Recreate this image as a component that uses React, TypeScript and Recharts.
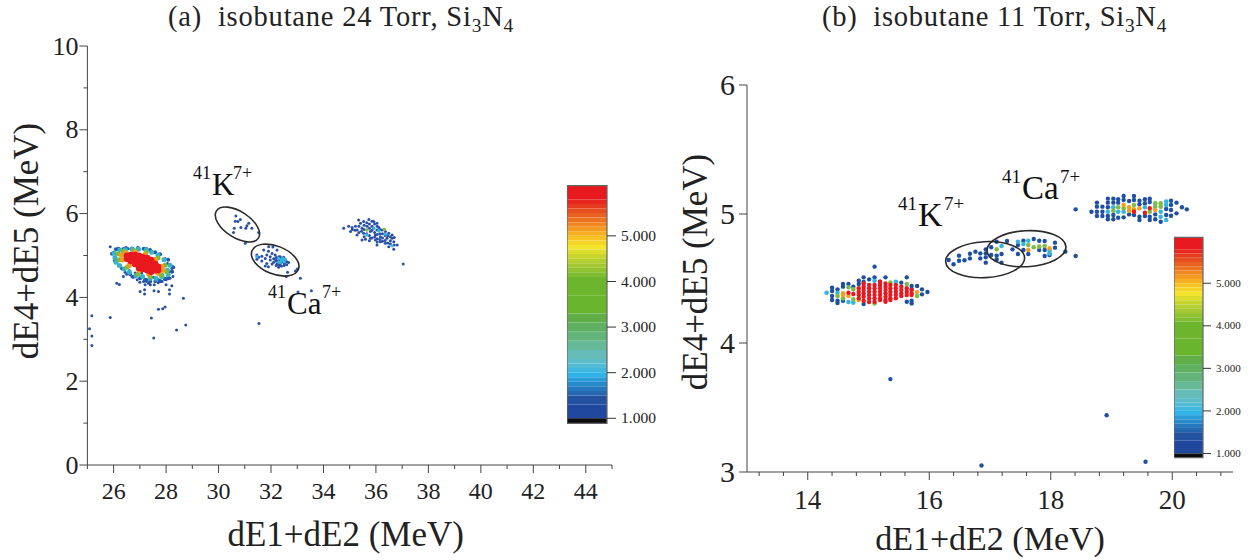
import React from 'react';
import { ScatterChart, Scatter, XAxis, YAxis, ReferenceArea } from 'recharts';

type Col = [number, ...number[]];
const cols = (list: Col[]) => list.flatMap(([x, ...ys]) => ys.map((y) => ({ x, y })));

// ---- panel (a) axes
const aXTicks = [25,26,27,28,29,30,31,32,33,34,35,36,37,38,39,40,41,42,43,44,45];
const aXMajor = [26,28,30,32,34,36,38,40,42,44];
const aYTicks = [0,1,2,3,4,5,6,7,8,9,10];
const aYMajor = [0,2,4,6,8,10];

// ---- panel (a) points: x followed by its y values
const aEdge: Col[] = [
  [28.23,4.61],[28.08,4.46],[27.77,4.39],[27.39,4.38],[27.01,4.46],[26.63,4.55],[26.32,4.69],[26.05,4.88],[25.94,5.04],
  [26.09,5.15],[26.47,5.18],[26.93,5.18],[27.39,5.13],[27.77,5.03],[28.08,4.90],[28.27,4.72],
  [27.20,4.42],[27.60,4.40],[26.80,4.50],[27.95,4.44],[26.18,5.16],[26.70,5.17],[27.15,5.16],[27.58,5.08],
];
const aBlue: Col[] = [
  [25.08,3.25],[25.17,3.56,3.08,2.85],[25.87,5.21,3.52],[26.09,5.04],[26.12,4.34,4.89],[26.22,4.31],[26.25,5.13,4.77],
  [26.37,5.17,4.50],[26.44,4.60],[26.50,4.55],[26.56,5.16],[26.60,4.64],[26.63,4.60],[26.70,4.50],[26.73,4.48],[26.76,5.16],[26.82,4.58],[26.88,4.54],
  [26.90,4.42],[26.95,5.17],[27.00,4.36],[27.01,4.14,4.46],[27.07,4.58],[27.14,5.16,4.38],[27.18,4.18,4.08],[27.20,4.30],[27.25,4.38],[27.26,5.17,4.43],[27.33,4.34],
  [27.39,4.54],[27.40,4.40,4.30],[27.44,3.51],[27.46,5.07],[27.52,4.48],[27.53,3.03],[27.54,4.16],[27.55,4.30],[27.58,4.38],[27.70,4.35],[27.71,5.01,4.43,4.14,3.72],
  [27.77,4.38],[27.85,4.38],[27.87,4.54,3.73],[27.96,4.93,4.46,3.77],[28.00,4.42,4.30],[28.05,4.81],[28.09,4.58],[28.13,4.18,4.08],[28.15,4.46,4.62],[28.22,4.69,4.28],
  [28.26,4.50],[28.40,3.22],[28.66,3.98],[28.75,3.34],
  [30.57,5.55],[30.60,5.65],[30.64,5.82],[30.66,5.94],[30.74,5.81],[30.83,5.86],[30.85,5.67],[31.02,5.29],[31.04,5.65],
  [31.08,5.71],[31.15,5.77],[31.27,5.65],[31.53,5.55],
  [31.46,5.01,4.91],[31.53,4.96],[31.54,3.38],[31.65,4.98,4.87],[31.72,5.13],[31.78,4.93,4.75],[31.84,5.01,4.81],[31.90,5.10,4.73],[31.91,5.21],[31.97,4.97,4.89],
  [32.04,5.05,4.80],[32.07,5.20],[32.10,4.92,4.84],[32.16,5.01,4.91],[32.20,4.95,4.87,4.76],[32.23,5.13,4.80],[32.29,4.88,4.72],[32.30,4.97,4.84,4.78],[32.35,4.97,4.77],
  [32.40,4.93,4.84,4.75],[32.42,4.88],[32.48,4.96],[32.50,4.90,4.76],[32.51,4.81],[32.54,4.89],[32.58,4.50],[32.60,4.85,4.78],[32.63,4.60],[32.67,4.83],[32.93,4.63],[33.00,4.68],[33.03,4.13],
  [33.12,4.46],[33.54,4.16],
  [34.77,5.65],[34.96,5.70],[35.03,5.57],[35.09,5.67],[35.10,5.62],[35.20,5.60],[35.22,5.70],[35.28,5.61,5.49],[35.34,5.85],[35.35,5.70,5.55],[35.41,5.77],[35.45,5.58],
  [35.47,5.65,5.37],[35.53,5.81,5.53],[35.55,5.72,5.62,5.45],[35.60,5.39],[35.65,5.78,5.52],[35.66,5.70],[35.73,5.86],[35.75,5.75,5.65,5.48,5.35],[35.79,5.57,5.41],[35.85,5.82,5.70,5.60,5.42],
  [35.92,5.81],[35.95,5.75,5.55,5.44],[35.98,5.49,5.37],[36.04,5.77,5.61,5.25],[36.05,5.70,5.50,5.40,5.32],[36.11,5.67],[36.15,5.62,5.52,5.38],[36.17,5.45,5.33],[36.23,5.61],[36.25,5.52,5.42,5.34],[36.35,5.48,5.36],[36.36,5.57,5.29],
  [36.42,5.41],[36.45,5.47,5.30],[36.49,5.53,5.21],[36.55,5.45,5.35,5.28],[36.62,5.49,5.41],[36.68,5.33,5.15],[36.70,5.43,5.25],[36.81,5.25],[37.04,4.80],
];
const aCyan: Col[] = [
  [26.02,5.06],[26.09,4.84],[26.24,5.13],[26.40,4.68],[26.70,5.15],[26.85,4.52],[27.24,5.13],[27.39,4.45],[27.69,5.01],
  [27.85,4.49],[28.08,4.54],[28.15,4.77],
  [26.05,4.95],[26.22,4.76],[26.60,4.60],[27.10,4.50],[27.62,4.45],[28.05,4.65],[27.92,4.90],[27.45,5.08],[26.95,5.15],[26.45,5.14],
];
const aCyanSmall: Col[] = [
  [31.46,4.97],[32.29,4.93],[32.42,4.91],[32.54,4.91],[32.35,4.83],[32.40,4.87],[32.50,4.85],[32.30,4.84],[32.45,4.93],
  [35.66,5.49],[35.92,5.65],[36.11,5.59],[36.36,5.51],[36.62,5.23],
];
const aGreen: Col[] = [
  [26.17,5.04],[26.21,4.90],[26.36,5.10],[26.51,4.72],[26.78,5.12],[26.93,4.56],[27.24,5.08],[27.39,4.50],[27.69,4.94],
  [27.81,4.53],[27.96,4.77],[28.02,4.61],
];
const aGreenSmall: Col[] = [[35.66,5.61],[36.32,5.62]];
const aOrange: Col[] = [
  [26.30,5.01],[26.34,4.90],[26.47,5.06],[26.59,4.76],[26.82,5.08],[26.97,4.64],[27.20,5.02],[27.35,4.56],[27.58,4.90],
  [27.69,4.58],[27.83,4.74],[27.87,4.65],
];
const aRed: Col[] = [
  [26.51,4.99,4.92],[26.66,5.01,4.94,4.87],[26.82,5.01,4.94,4.87,4.80],[26.97,4.99,4.92,4.84,4.77,4.70],
  [27.12,4.96,4.89,4.82,4.75,4.68],[27.28,4.94,4.87,4.80,4.73,4.65],[27.43,4.89,4.82,4.75,4.68,4.61],
  [27.58,4.80,4.73,4.65],[27.69,4.73,4.65],
];
const aEllipseK = [{ x: 30.72, y: 5.74 }];
const aEllipseCa = [{ x: 32.16, y: 4.89 }];

// ---- panel (b) axes
const bXTicks = [13.2,13.6,14,14.4,14.8,15.2,15.6,16,16.4,16.8,17.2,17.6,18,18.4,18.8,19.2,19.6,20,20.4,20.8];
const bXMajor = [14,16,18,20];
const bYTicks = [3,4,5,6];

// ---- panel (b) points
const bBlue: Col[] = [
  [14.40,4.429,4.403,4.364,4.333],[14.49,4.416,4.328,4.310],[14.58,4.457,4.437,4.328],[14.67,4.457],[14.75,4.437],
  [14.84,4.483,4.457],[14.92,4.509,4.473,4.302],[15.01,4.493],[15.10,4.509,4.592],[15.19,4.475],[15.28,4.509],
  [15.54,4.468],[15.63,4.509,4.320],[15.71,4.442,4.416,4.328,4.307],[15.80,4.442],[15.88,4.416,4.377],[15.97,4.395],
  [15.36,3.72],[16.86,3.05],[18.92,3.44],[19.56,3.08],
  [16.32,4.643],[16.40,4.610],[16.49,4.677,4.638],[16.58,4.641],[16.67,4.692,4.656],[16.76,4.708],[16.84,4.695,4.656],
  [16.93,4.726,4.695,4.664,4.623],[17.02,4.742,4.682],[17.11,4.785,4.677,4.648],[17.19,4.690,4.623],[17.28,4.791],
  [17.37,4.726],[17.46,4.760,4.690],[17.55,4.793,4.721],[17.63,4.690],[17.72,4.806],[17.81,4.793,4.721],
  [17.90,4.791,4.721,4.674],[17.98,4.682],[18.07,4.778,4.739],[18.24,4.708],[18.41,4.674,5.036],
  [18.67,5.018],[18.76,5.088,5.057,5.018,4.984],[18.85,5.057,5.018,4.984],[18.94,5.119,5.088,5.052,4.984,4.959],
  [19.03,5.119,5.088,4.992,4.959],[19.11,5.114,5.088,4.971],[19.20,5.139,5.108,4.974],[19.29,5.101,4.997],
  [19.37,5.139,5.108,4.992],[19.46,5.103,5.075,4.979,4.953],[19.55,5.114,5.083,4.984],[19.63,5.119,5.093,4.979,4.953],
  [19.72,4.997,4.959],[19.81,4.940],[19.90,5.039,4.992],[19.98,5.103,5.070,5.031,4.987],[20.07,5.088,5.005],[20.16,5.052],[20.24,5.036],
];
const bCyan: Col[] = [
  [14.31,4.390],[14.49,4.390],[14.67,4.318],[14.75,4.313],[15.10,4.483],[15.45,4.475],
  [17.19,4.752],[17.46,4.785],[17.55,4.767],[17.63,4.793],[17.98,4.716,4.695],
  [18.94,5.018],[19.03,5.052],[19.11,5.018],[19.20,5.018],[19.55,5.052],[19.81,5.018,4.979],[19.90,5.096,5.070,4.953],
];
const bGreen: Col[] = [
  [14.49,4.364],[14.58,4.346],[14.67,4.432],[14.75,4.416,4.338],[15.10,4.307],[15.36,4.468],[15.63,4.457],[15.80,4.364],
  [17.11,4.726],[17.63,4.760],[17.72,4.742],[17.81,4.747],[17.90,4.752],
  [19.03,5.026],[19.11,5.052],[19.20,5.044],[19.37,5.070],[19.63,5.018],[19.72,5.083,5.057],[19.81,5.083,5.057],
];
const bOrange: Col[] = [
  [14.58,4.385,4.372],[14.67,4.364],[14.84,4.333],[15.80,4.395],
  [17.63,4.721],[17.98,4.734],
  [19.20,5.070],[19.29,5.052,5.026],[19.37,5.036],[19.46,5.044],[19.72,5.031],
];
const bRed: Col[] = [
  [14.67,4.390],[14.75,4.380],[14.84,4.424,4.398,4.372,4.346],[14.92,4.462,4.437,4.411,4.385,4.359,4.328],
  [15.01,4.450,4.424,4.398,4.372,4.346,4.318],[15.10,4.450,4.424,4.398,4.372,4.346,4.320],
  [15.19,4.475,4.450,4.424,4.398,4.372,4.346,4.333],[15.28,4.462,4.437,4.411,4.385,4.359,4.333,4.320],
  [15.36,4.450,4.424,4.398,4.372,4.346,4.333],[15.45,4.450,4.424,4.398,4.372,4.346],[15.54,4.437,4.411,4.385,4.364],
  [15.63,4.424,4.398,4.372],[15.71,4.411,4.385,4.372],
  [19.37,5.018],[19.55,5.010],[19.63,5.044],
];
const bEllipseK = [{ x: 16.92, y: 4.646 }];
const bEllipseCa = [{ x: 17.60, y: 4.731 }];

// ---- colour scale
const barTicks = [1, 2, 3, 4, 5];
const bandEdges = [6.2,5.8,5.7,5.6,5.5,5.4,5.3,5.2,5.1,5.0,4.9,4.8,4.7,4.6,4.5,4.4,4.3,4.2,4.1,3.7,3.3,3.1,2.9,2.7,2.5,2.3,2.2,2.1,2.0,1.9,1.8,1.7,1.6,1.5,1.3,1.0,0.8];
const bandColors = ['#e8191e','#e6261f','#e53c20','#e64f20','#e96222','#ec7322','#f08722','#f39a20','#f5af21','#f7c322','#f5d628','#f2e52c','#dcdd2d','#c7d52d','#b5ce30','#a4c832','#91c230','#80bd2f','#6cb52c','#69b52d','#5fae47','#5fb061','#62b478','#66b996','#66bcb8','#5cbcc8','#52bcd5','#40b8de','#2fb2e8','#2a9dd9','#2589ca','#2578bd','#2568b0','#22519f','#1f479e','#0d0d10'];
const barAnchor = [{ x: 0, y: 1 }];

const SERIF = '"Liberation Serif", "Times New Roman", serif';
const INK = '#222';
const AXIS = '#444';

const dot = (fill: string, r: number) => (p: any) => <circle cx={p.cx} cy={p.cy} r={r} fill={fill} />;
const ring = (rx: number, ry: number, angle: number) => (p: any) => (
  <ellipse cx={p.cx} cy={p.cy} rx={rx} ry={ry} fill="none" stroke="#2b2b2b" strokeWidth={1.6}
    transform={`rotate(${angle} ${p.cx} ${p.cy})`} />
);

const xTick = (major: number[], fontSize: number, majorLen: number, minorLen: number, dy: number) => (p: any) => {
  const isMajor = major.includes(p.payload.value);
  return (
    <g>
      <line x1={p.x} x2={p.x} y1={p.y} y2={p.y + (isMajor ? majorLen : minorLen)} stroke={AXIS} strokeWidth={1} />
      {isMajor && <text x={p.x} y={p.y + dy} textAnchor="middle" fontSize={fontSize} fontFamily={SERIF} fill={INK}>{p.payload.value}</text>}
    </g>
  );
};
const yTick = (major: number[], fontSize: number, majorLen: number, minorLen: number, gap: number) => (p: any) => {
  const isMajor = major.includes(p.payload.value);
  return (
    <g>
      <line x1={p.x} x2={p.x - (isMajor ? majorLen : minorLen)} y1={p.y} y2={p.y} stroke={AXIS} strokeWidth={1} />
      {isMajor && <text x={p.x - gap} y={p.y + fontSize * 0.33} textAnchor="end" fontSize={fontSize} fontFamily={SERIF} fill={INK}>{p.payload.value}</text>}
    </g>
  );
};

const barTick = (fontSize: number, len: number) => (p: any) => (
  <g>
    <line x1={p.x} x2={p.x + len} y1={p.y} y2={p.y} stroke="#333" strokeWidth={1} />
    <text x={p.x + len + 5} y={p.y + fontSize * 0.33} fontSize={fontSize} fontFamily={SERIF} fill={INK}>{p.payload.value.toFixed(3)}</text>
  </g>
);

function ColorBar({ left, top, bottom, w, domain, fontSize, len }: any) {
  return (
    <div style={{ position: 'absolute', left, top: 0 }}>
      <ScatterChart width={w + 70} height={560} margin={{ top, bottom: 560 - bottom, left: 0, right: 10 }}>
        <XAxis type="number" dataKey="x" domain={[0, 1]} hide allowDataOverflow />
        <YAxis type="number" dataKey="y" orientation="right" width={60} domain={domain} ticks={barTicks} interval={0}
          allowDataOverflow tickLine={false} axisLine={false} tickSize={0} tickMargin={0} tick={barTick(fontSize, len)} />
        <Scatter data={barAnchor} shape={() => null} isAnimationActive={false} />
        {bandColors.map((c, i) => (
          <ReferenceArea key={c + i} x1={0} x2={1} y1={Math.max(bandEdges[i + 1], domain[0])} y2={Math.min(bandEdges[i], domain[1])}
            fill={c} fillOpacity={1} stroke="none" />
        ))}
        <ReferenceArea x1={0} x2={1} y1={domain[0]} y2={domain[1]} fill="none" stroke="#666" strokeWidth={1.2} />
      </ScatterChart>
    </div>
  );
}

function Panel({ left, width, margin, xDomain, yDomain, xTicks, yTicks, xTickEl, yTickEl, layers, ell, xTitle, xDx, xOffset, xFont }: any) {
  return (
    <div style={{ position: 'absolute', left, top: 0 }}>
      <ScatterChart width={width} height={560} margin={margin}>
        <XAxis type="number" dataKey="x" domain={xDomain} ticks={xTicks} interval={0} allowDataOverflow height={95}
          tickLine={false} tickSize={0} tickMargin={0} stroke={AXIS} tick={xTickEl}
          label={{ value: xTitle, position: 'insideBottom', offset: xOffset, dx: xDx, fontSize: xFont, fontFamily: SERIF, fill: INK }} />
        <YAxis type="number" dataKey="y" domain={yDomain} ticks={yTicks} interval={0} allowDataOverflow width={60}
          tickLine={false} tickSize={0} tickMargin={0} stroke={AXIS} tick={yTickEl} />
        {layers.map((l: any, i: number) => (
          <Scatter key={i} data={cols(l.data)} shape={dot(l.fill, l.r)} isAnimationActive={false} />
        ))}
        {ell.map((e: any, i: number) => (
          <Scatter key={'e' + i} data={e.data} shape={ring(e.rx, e.ry, e.angle)} isAnimationActive={false} />
        ))}
      </ScatterChart>
    </div>
  );
}

const Iso = ({ x, y, mass, sym, charge, big, small, cx }: any) => (
  <text y={y} fontFamily={SERIF} fill="#111">
    <tspan x={x} y={y - 16} fontSize={small}>{mass}</tspan>
    <tspan x={x + small + 1} y={y} fontSize={big}>{sym}</tspan>
    <tspan x={cx} y={y - 16} fontSize={small}>{charge}</tspan>
  </text>
);

const Title = ({ x, y, head, size, spacing }: any) => (
  <text x={x} y={y} fontFamily={SERIF} fontSize={size} letterSpacing={spacing} fill={INK} xmlSpace="preserve" style={{ whiteSpace: 'pre' }}>
    {head}<tspan fontSize={size * 0.68} dy={6}>3</tspan><tspan dy={-6}>N</tspan><tspan fontSize={size * 0.68} dy={6}>4</tspan>
  </text>
);

export default function App() {
  return (
    <div style={{ position: 'absolute', left: 0, top: 0, width: 1250, height: 560, overflow: 'hidden', background: '#fff' }}>
      <Panel left={0} width={640} margin={{ top: 46, bottom: 0, left: 27.4, right: 28 }}
        xDomain={[25, 45]} yDomain={[0, 10]} xTicks={aXTicks} yTicks={aYTicks}
        xTickEl={xTick(aXMajor, 24, 8, 4, 34)} yTickEl={yTick(aYMajor, 26, 8, 4, 9)}
        xTitle="dE1+dE2 (MeV)" xDx={-4} xOffset={14} xFont={35}
        layers={[
          { data: aBlue, fill: '#2a4fa8', r: 1.5 },
          { data: aEdge, fill: '#2457aa', r: 2 },
          { data: aCyanSmall, fill: '#35b4e0', r: 1.7 },
          { data: aGreenSmall, fill: '#7dbb3a', r: 1.7 },
          { data: aCyan, fill: '#35b4c8', r: 2.5 },
          { data: aGreen, fill: '#7dbb3a', r: 2.5 },
          { data: aOrange, fill: '#f39a20', r: 2.7 },
          { data: aRed, fill: '#e8191e', r: 3.3 },
        ]}
        ell={[
          { data: aEllipseK, rx: 25, ry: 13, angle: 33 },
          { data: aEllipseCa, rx: 25, ry: 14, angle: 22 },
        ]} />
      <Panel left={660} width={590} margin={{ top: 85, bottom: -7, left: 27, right: 17 }}
        xDomain={[13, 21]} yDomain={[3, 6]} xTicks={bXTicks} yTicks={bYTicks}
        xTickEl={xTick(bXMajor, 27, 8, 4, 37)} yTickEl={yTick(bYTicks, 30, 8, 8, 12)}
        xTitle="dE1+dE2 (MeV)" xDx={0} xOffset={17} xFont={34}
        layers={[
          { data: bBlue, fill: '#1f4fa3', r: 2.2 },
          { data: bCyan, fill: '#35b4e0', r: 2.3 },
          { data: bGreen, fill: '#7dbb4a', r: 2.3 },
          { data: bOrange, fill: '#f3a020', r: 2.3 },
          { data: bRed, fill: '#e8191e', r: 2.2 },
        ]}
        ell={[
          { data: bEllipseK, rx: 39.5, ry: 18, angle: -3 },
          { data: bEllipseCa, rx: 39.5, ry: 18, angle: -3 },
        ]} />
      <ColorBar left={566.7} top={185.7} bottom={423.3} w={40} domain={[0.89, 6.1]} fontSize={15.5} len={9} />
      <ColorBar left={1174.3} top={237.3} bottom={457.7} w={29} domain={[0.9, 6.08]} fontSize={11} len={8} />
      <svg width={1250} height={560} style={{ position: 'absolute', left: 0, top: 0, pointerEvents: 'none' }}>
        <Title x={168} y={26} size={28.5} spacing={0.8} head="(a)  isobutane 24 Torr, Si" />
        <Title x={822} y={26} size={28.5} spacing={0.75} head="(b)  isobutane 11 Torr, Si" />
        <text transform="translate(38 241) rotate(-90)" textAnchor="middle" fontFamily={SERIF} fontSize={35} fill={INK}>dE4+dE5 (MeV)</text>
        <text transform="translate(707 272) rotate(-90)" textAnchor="middle" fontFamily={SERIF} fontSize={35} fill={INK}>dE4+dE5 (MeV)</text>
        <Iso x={193} y={195} mass="41" sym="K" charge="7+" big={31} small={18} cx={233} />
        <Iso x={268} y={314} mass="41" sym="Ca" charge="7+" big={31} small={18} cx={322} />
        <Iso x={898} y={226} mass="41" sym="K" charge="7+" big={34} small={19} cx={944} />
        <Iso x={1002} y={199} mass="41" sym="Ca" charge="7+" big={33} small={19} cx={1060} />
      </svg>
    </div>
  );
}
